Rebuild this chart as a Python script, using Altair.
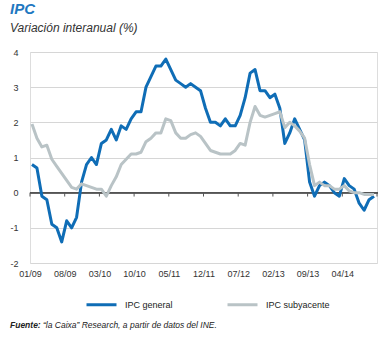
import altair as alt
import pandas as pd

# ---- data -------------------------------------------------------------
tick_labels = ["01/09", "08/09", "03/10", "10/10", "05/11", "12/11",
               "07/12", "02/13", "09/13", "04/14", ""]

ipc_general = [
    0.8, 0.7, -0.1, -0.2, -0.9, -1.0, -1.4, -0.8, -1.0, -0.7, 0.3, 0.8,
    1.0, 0.8, 1.4, 1.5, 1.8, 1.5, 1.9, 1.8, 2.1, 2.3, 2.3, 3.0,
    3.3, 3.6, 3.6, 3.8, 3.5, 3.2, 3.1, 3.0, 3.1, 3.0, 2.9, 2.4,
    2.0, 2.0, 1.9, 2.1, 1.9, 1.9, 2.2, 2.7, 3.4, 3.5, 2.9, 2.9,
    2.7, 2.8, 2.4, 1.4, 1.7, 2.1, 1.8, 1.5, 0.3, -0.1, 0.2, 0.3,
    0.2, 0.0, -0.1, 0.4, 0.2, 0.1, -0.3, -0.5, -0.2, -0.1,
]

ipc_subyacente = [
    1.95, 1.55, 1.3, 1.35, 0.95, 0.75, 0.55, 0.35, 0.15, 0.1, 0.25, 0.2,
    0.15, 0.1, 0.1, -0.1, 0.2, 0.45, 0.8, 0.95, 1.1, 1.1, 1.15, 1.45,
    1.55, 1.7, 1.7, 2.1, 2.05, 1.7, 1.55, 1.55, 1.65, 1.7, 1.6, 1.4,
    1.2, 1.15, 1.1, 1.1, 1.1, 1.2, 1.4, 1.35, 2.0, 2.45, 2.2, 2.15,
    2.2, 2.25, 2.3, 1.85, 2.0, 1.9, 1.75, 1.55, 0.8, 0.2, 0.3, 0.2,
    0.2, 0.1, 0.1, 0.2, 0.05, 0.0, 0.0, -0.05, -0.05, -0.05,
]

y_ticks = [-2, -1, 0, 1, 2, 3, 4]

series_names = ["IPC general", "IPC subyacente"]
series_colors = ["#0f6db6", "#b9c3c6"]

title_text = "IPC"
subtitle_text = "Variación interanual (%)"
source_bold = "Fuente:"
source_text = "“la Caixa” Research, a partir de datos del INE."

# ---- tables -----------------------------------------------------------
rows = []
for i, v in enumerate(ipc_general):
    rows.append({"m": i, "v": v, "serie": series_names[0]})
for i, v in enumerate(ipc_subyacente):
    rows.append({"m": i, "v": v, "serie": series_names[1]})
df = pd.DataFrame(rows)

OFF = 0.4
tick_vals = [k * 7 - OFF for k in range(len(tick_labels))]
ticks_df = pd.DataFrame({"m": tick_vals, "v": [0] * len(tick_vals),
                         "v1": [-0.11] * len(tick_vals)})

FONT = "Liberation Sans"
x_scale = alt.Scale(domain=[-OFF, 70 - OFF], nice=False, zero=False)
y_scale = alt.Scale(domain=[-2, 4], nice=False)

label_js = "[" + ",".join("'%s'" % t for t in tick_labels) + "]"

x_axis = alt.Axis(values=tick_vals, title=None, domain=False, ticks=False,
                  grid=False, labelPadding=6, labelFontSize=9,
                  labelFont=FONT, labelColor="#333333",
                  labelOverlap=False, labelBound=False, labelFlush=False,
                  labelExpr=label_js + "[round((datum.value + %s) / 7)]" % OFF)
y_axis = alt.Axis(values=y_ticks, title=None, domain=False,
                  ticks=False, grid=True, gridColor="#d6d6d6", gridWidth=1,
                  labelPadding=12, labelFontSize=9, labelFont=FONT,
                  labelOverlap=False, labelBound=False, labelFlush=False,
                  labelColor="#333333", labelExpr="'' + datum.value")

lines = alt.Chart(df).mark_line(strokeWidth=3, strokeJoin="round").encode(
    x=alt.X("m:Q", scale=x_scale, axis=x_axis),
    y=alt.Y("v:Q", scale=y_scale, axis=y_axis),
    color=alt.Color("serie:N",
                    scale=alt.Scale(domain=series_names, range=series_colors),
                    legend=alt.Legend(title=None, orient="none", legendX=55, legendY=236,
                                      direction="horizontal", symbolType="stroke",
                                      symbolSize=900, symbolStrokeWidth=3,
                                      labelFont=FONT, labelFontSize=9,
                                      labelColor="#222222", labelOffset=7,
                                      columnPadding=48)),
)

zero_line = alt.Chart(ticks_df).mark_rule(color="#555555", strokeWidth=1).encode(
    x=alt.value(0), x2=alt.value(348), y=alt.Y("v:Q", scale=y_scale, axis=y_axis))

zero_ticks = alt.Chart(ticks_df).mark_rule(color="#555555", strokeWidth=1).encode(
    x=alt.X("m:Q", scale=x_scale, axis=x_axis),
    y=alt.Y("v:Q", scale=y_scale, axis=y_axis),
    y2=alt.Y2("v1:Q"))

one = alt.Data(values=[{}])
title = alt.Chart(one).mark_text(align="left", baseline="alphabetic", font=FONT,
                                 fontSize=15, fontWeight="bold", fontStyle="italic",
                                 color="#1f78c1").encode(
    x=alt.value(-20), y=alt.value(-38), text=alt.value(title_text))
subtitle = alt.Chart(one).mark_text(align="left", baseline="alphabetic", font=FONT,
                                    fontSize=12, fontStyle="italic",
                                    color="#333333").encode(
    x=alt.value(-20), y=alt.value(-20), text=alt.value(subtitle_text))
src1 = alt.Chart(one).mark_text(align="left", baseline="alphabetic", font=FONT,
                                fontSize=8.5, fontStyle="italic", fontWeight="bold",
                                color="#222222").encode(
    x=alt.value(-20), y=alt.value(276), text=alt.value(source_bold))
src2 = alt.Chart(one).mark_text(align="left", baseline="alphabetic", font=FONT,
                                fontSize=8.5, fontStyle="italic",
                                color="#222222").encode(
    x=alt.value(13), y=alt.value(276), text=alt.value(source_text))

chart = alt.layer(zero_line, zero_ticks, lines, title, subtitle, src1, src2).properties(
    width=347, height=211,
    autosize=alt.AutoSizeParams(type="none"),
    padding={"left": 30, "top": 52, "right": 10, "bottom": 75},
).configure_view(stroke=None).configure(background="white")

chart.save("out.html", embed_options={"renderer": "svg", "actions": False})
